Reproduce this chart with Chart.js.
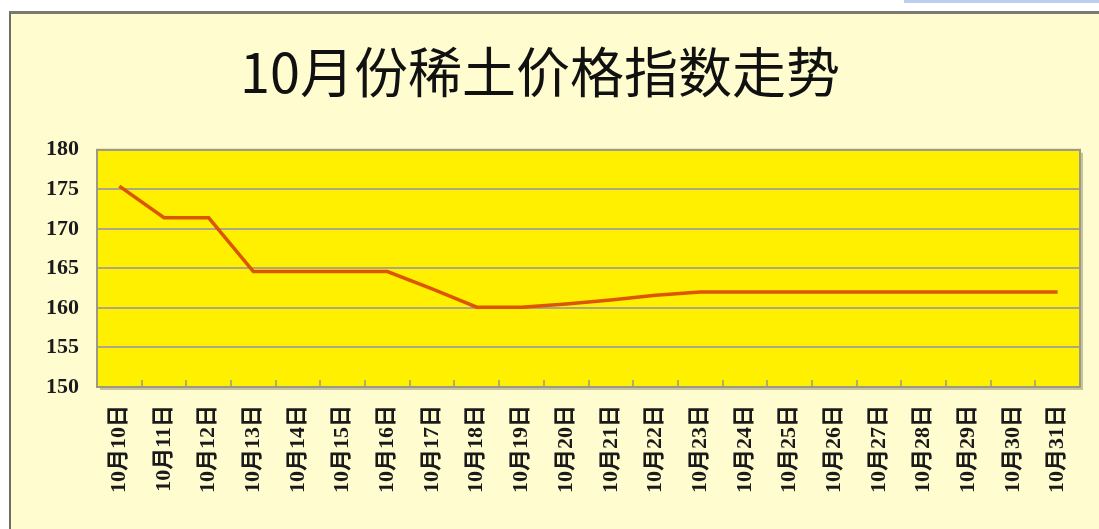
<!DOCTYPE html>
<html>
<head>
<meta charset="utf-8">
<script src="https://cdn.jsdelivr.net/npm/chart.js@4/dist/chart.umd.min.js"></script>
<style>
  html, body { margin: 0; padding: 0; background: #ffffff; overflow: hidden; }
  #topbar {
    position: absolute; left: 904px; top: 0; width: 200px; height: 3px;
    background: #bcd0ee;
  }
  #frame {
    position: absolute; left: 9px; top: 11px; width: 1200px; height: 600px;
    background: #fffdd0;
    border-top: 3px solid #7a7a72;
    border-left: 2px solid #6e6e68;
  }
  #wrap { position: absolute; left: 0; top: 0; width: 1099px; height: 529px; }
</style>
</head>
<body>
<div id="topbar"></div>
<div id="frame"></div>
<div id="wrap"><canvas id="priceChart" width="1099" height="529"></canvas></div>
<script>
// 日期
const days = [
  '10月10日', '10月11日', '10月12日', '10月13日', '10月14日', '10月15日',
  '10月16日', '10月17日', '10月18日', '10月19日', '10月20日', '10月21日',
  '10月22日', '10月23日', '10月24日', '10月25日', '10月26日', '10月27日',
  '10月28日', '10月29日', '10月30日', '10月31日'
]

// 稀土价格指数
const priceIndex = [
  175.4, 171.4, 171.4, 164.6, 164.6, 164.6, 164.6, 162.4, 160.1, 160.1, 160.5,
  161.0, 161.6, 162.0, 162.0, 162.0, 162.0, 162.0, 162.0, 162.0, 162.0, 162.0
]

const yTicks = [150, 155, 160, 165, 170, 175, 180]

// 绘图区黄色底 + 边框 + 底部向内的刻度
const plotFrame = {
  id: 'plotFrame',
  beforeDatasetsDraw(chart) {
    const { ctx, chartArea: a } = chart
    ctx.save()
    ctx.fillStyle = '#fff000'
    ctx.fillRect(a.left, a.top, a.right - a.left, a.bottom - a.top)
    // 横向网格线
    const y = chart.scales.y
    ctx.strokeStyle = '#a9a68a'
    ctx.lineWidth = 2
    yTicks.forEach(v => {
      const py = Math.round(y.getPixelForValue(v))
      ctx.beginPath()
      ctx.moveTo(a.left, py)
      ctx.lineTo(a.right, py)
      ctx.stroke()
    })
    ctx.restore()
  },
  afterDatasetsDraw(chart) {
    const { ctx, chartArea: a } = chart
    const x = chart.scales.x
    ctx.save()
    ctx.strokeStyle = '#9c9a86'
    ctx.lineWidth = 2
    ctx.strokeRect(a.left, a.top, a.right - a.left, a.bottom - a.top)
    // 右侧和底部阴影
    ctx.strokeStyle = '#c8c49a'
    ctx.beginPath()
    ctx.moveTo(a.right + 2, a.top + 3)
    ctx.lineTo(a.right + 2, a.bottom + 2)
    ctx.lineTo(a.left + 3, a.bottom + 2)
    ctx.stroke()
    // 分类之间的刻度
    ctx.strokeStyle = '#9c9a86'
    ctx.lineWidth = 1.5
    const half = (x.getPixelForTick(1) - x.getPixelForTick(0)) / 2
    for (let i = 0; i <= days.length; i++) {
      const px = Math.round(x.getPixelForTick(Math.min(i, days.length - 1)) + (i === days.length ? half : -half))
      ctx.beginPath()
      ctx.moveTo(px, a.bottom)
      ctx.lineTo(px, a.bottom - 7)
      ctx.stroke()
    }
    ctx.restore()
  }
}

new Chart(document.getElementById('priceChart'), {
  type: 'line',
  data: {
    labels: days,
    datasets: [{
      data: priceIndex,
      borderColor: '#dc5500',
      borderWidth: 3.5,
      pointRadius: 0,
      tension: 0,
      fill: false
    }]
  },
  options: {
    responsive: false,
    animation: false,
    layout: { padding: { left: 0, right: 19, top: 0, bottom: 0 } },
    plugins: {
      legend: { display: false },
      tooltip: { enabled: false },
      title: {
        display: true,
        text: '10月份稀土价格指数走势',
        color: '#111111',
        font: { family: '"Noto Sans CJK SC", sans-serif', size: 54, weight: 'normal', lineHeight: 1.2 },
        padding: { top: 40, bottom: 45 }
      }
    },
    scales: {
      x: {
        offset: true,
        grid: { display: false, offset: true },
        border: { display: false },
        ticks: {
          color: '#1a1a1a',
          font: { family: '"Liberation Serif", "Noto Sans CJK SC", serif', size: 22, weight: 'bold' },
          maxRotation: 90,
          minRotation: 90,
          autoSkip: false,
          padding: 10
        },
        afterFit(scale) { scale.height = 142 }
      },
      y: {
        min: 150,
        max: 180,
        grid: { display: false },
        border: { display: false },
        afterBuildTicks(scale) {
          scale.ticks = yTicks.map(v => ({ value: v }))
        },
        ticks: {
          color: '#1a1a1a',
          font: { family: '"Liberation Serif", serif', size: 22, weight: 'bold' },
          padding: 10
        },
        afterFit(scale) { scale.width = 97 }
      }
    }
  },
  plugins: [plotFrame]
})
</script>
</body>
</html>
